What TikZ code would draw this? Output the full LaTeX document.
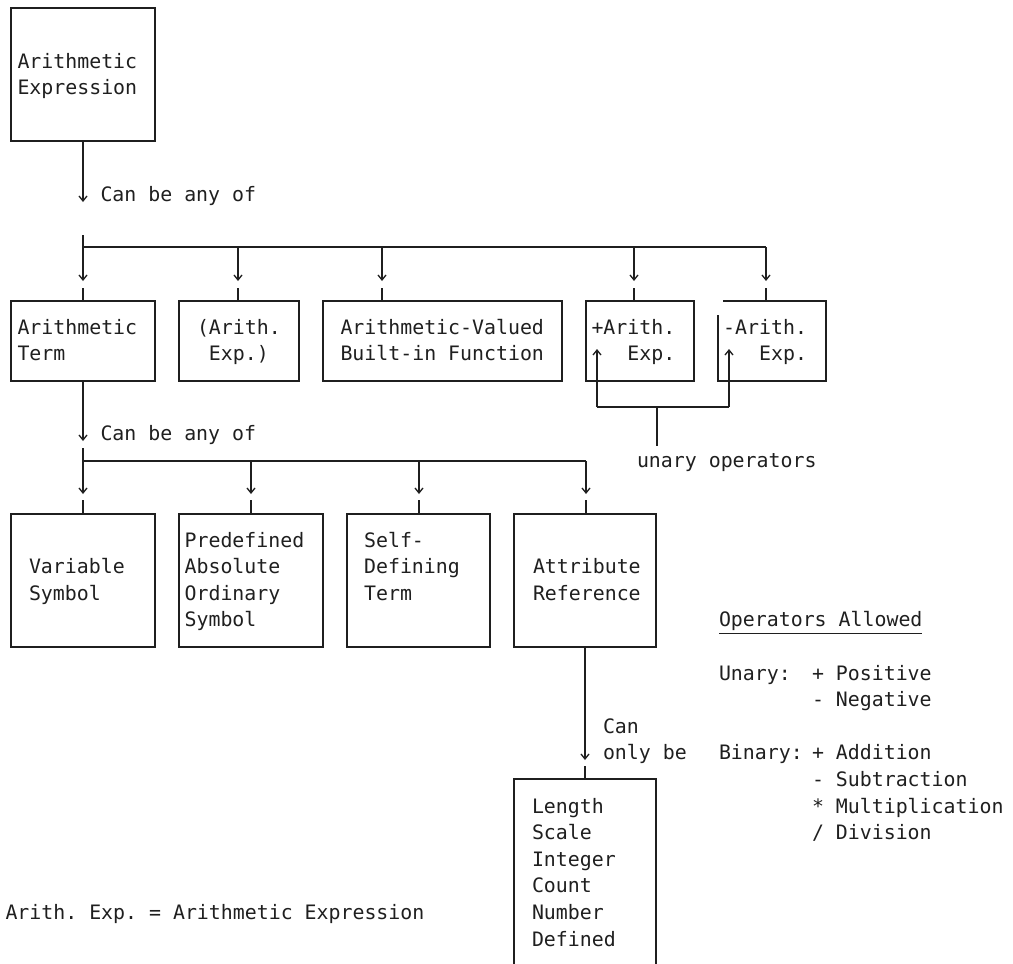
\documentclass[tikz,border=0pt]{standalone}
\usepackage{fontspec}
\newfontfamily\mono{DejaVu Sans Mono}
\usetikzlibrary{arrows.meta}
\newcommand\rows[1]{\vtop{\halign{##\hfil\cr#1\crcr}}}
\frenchspacing
\begin{document}
\begin{tikzpicture}[x=1pt,y=-1pt,
  link/.style={draw=black!88, line width=1.3pt},
  arr/.style={link, -{Straight Barb[length=5pt,width=8pt]}},
  box/.style={link, anchor=north west, inner sep=0pt, outer sep=0pt},
  lbl/.style={anchor=base west, inner sep=0pt, outer sep=0pt, text=black!88,
    font=\mono\frenchspacing\fontsize{19.88pt}{26.6pt}\selectfont}]
\useasboundingbox (0,0) rectangle (1013,964);
\clip (0,0) rectangle (1013,964);

% ---------- boxes ----------
\node[box, minimum width=144pt, minimum height=133pt] (ae)    at (11,8)    {};
\node[box, minimum width=144pt, minimum height=80pt]  (term)  at (11,301)  {};
\node[box, minimum width=120pt, minimum height=80pt]  (paren) at (179,301) {};
\node[box, minimum width=239pt, minimum height=80pt]  (avb)   at (323,301) {};
\node[box, minimum width=108pt, minimum height=80pt]  (pos)   at (586,301) {};
\node[box, draw=none, minimum width=108pt, minimum height=80pt] (neg) at (718,301) {};
\draw[link] ([xshift=5pt]neg.north west) -- (neg.north east) -- (neg.south east)
  -- (neg.south west) -- ([yshift=-14pt]neg.north west);
\node[box, minimum width=144pt, minimum height=133pt] (var)  at (11,514)  {};
\node[box, minimum width=144pt, minimum height=133pt] (paos) at (179,514) {};
\node[box, minimum width=143pt, minimum height=133pt] (sdt)  at (347,514) {};
\node[box, minimum width=142pt, minimum height=133pt] (attr) at (514,514) {};
\node[box, minimum width=142pt, minimum height=240pt] (len)  at (514,779) {};

% ---------- texts ----------
\node[lbl] (tae)    at (17.5,68.2)  {\rows{Arithmetic\cr Expression}};
\node[lbl] (cba1)   at (100.5,201.2) {Can be any of};
\node[lbl] (tterm)  at (17.5,334.2) {\rows{Arithmetic\cr Term}};
\node[lbl] (tparen) at (197,334.2)  {\rows{(Arith.\cr\hphantom{x}Exp.)}};
\node[lbl] (tavb)   at (340.5,334.2) {\rows{Arithmetic-Valued\cr Built-in Function}};
\node[lbl] (tpos)   at (591.5,334.2) {+Arith.};
\node[lbl] (tpos2)  at (627.4,360.8) {Exp.};
\node[lbl] (tneg)   at (723.2,334.2) {-Arith.};
\node[lbl] (tneg2)  at (759.1,360.8) {Exp.};
\node[lbl] (cba2)   at (100.5,440.6) {Can be any of};
\node[lbl] (uop)    at (637,467.2)  {unary operators};
\node[lbl] (tvar)   at (29,573.6)   {\rows{Variable\cr Symbol}};
\node[lbl] (tpaos)  at (184.6,547)  {\rows{Predefined\cr Absolute\cr Ordinary\cr Symbol}};
\node[lbl] (tsdt)   at (364.1,547)  {\rows{Self-\cr Defining\cr Term}};
\node[lbl] (tattr)  at (533,573.6)  {\rows{Attribute\cr Reference}};
\node[lbl] (only)   at (603,733.2)  {\rows{Can\cr only be}};
\node[lbl] (tlen)   at (532,813)    {\rows{Length\cr Scale\cr Integer\cr Count\cr Number\cr Defined}};
\node[lbl] (oa)     at (719,626.8)  {Operators Allowed};
\draw[link] ([yshift=-7pt]oa.base west) -- ([yshift=-7pt]oa.base east);
\node[lbl] (un)     at (719,680)    {Unary:};
\node[lbl] (unops)  at (812,680)    {\rows{+ Positive\cr - Negative}};
\node[lbl] (bin)    at (719,759.8)  {Binary:};
\node[lbl] (binops) at (812,759.8)  {\rows{+ Addition\cr - Subtraction\cr * Multiplication\cr / Division}};
\node[lbl] (foot)   at (5.5,919.4)  {Arith. Exp. = Arithmetic Expression};

% ---------- level 1 connectors ----------
\draw[arr] (ae.south) -- (ae.south |- 0,202);
\coordinate (h1) at (83,235);
\coordinate (d1) at (83,247);
\coordinate (d2) at (238,247);
\coordinate (d3) at (382,247);
\coordinate (d4) at (634,247);
\coordinate (d5) at (766,247);
\draw[link] (h1) -- (d1) -- (d5);
\foreach \d/\b in {d1/term, d2/paren, d3/avb, d4/pos, d5/neg} {
  \draw[arr] (\d) -- (\d |- 0,281);
  \draw[link] (\d |- 0,288) -- (\d |- \b.north);
}

% ---------- unary operators ----------
\coordinate (u1) at (597,407);
\coordinate (u2) at (729,407);
\coordinate (u3) at (657,407);
\coordinate (u4) at (657,446);
\draw[arr] (u1) -- (u1 |- 0,349);
\draw[arr] (u2) -- (u2 |- 0,349);
\draw[link] (u1) -- (u2);
\draw[link] (u3) -- (u4);

% ---------- level 2 connectors ----------
\draw[arr] (term.south) -- (term.south |- 0,441);
\coordinate (h2) at (83,448);
\coordinate (e1) at (83,461);
\coordinate (e2) at (251,461);
\coordinate (e3) at (419,461);
\coordinate (e4) at (586,461);
\draw[link] (h2) -- (e1) -- (e4);
\foreach \d/\b in {e1/var, e2/paos, e3/sdt, e4/attr} {
  \draw[arr] (\d) -- (\d |- 0,494);
  \draw[link] (\d |- 0,500) -- (\d |- \b.north);
}

% ---------- level 3 connector ----------
\draw[arr] (attr.south) -- (attr.south |- 0,760);
\draw[link] (attr.south |- 0,766) -- (attr.south |- len.north);
\end{tikzpicture}
\end{document}
